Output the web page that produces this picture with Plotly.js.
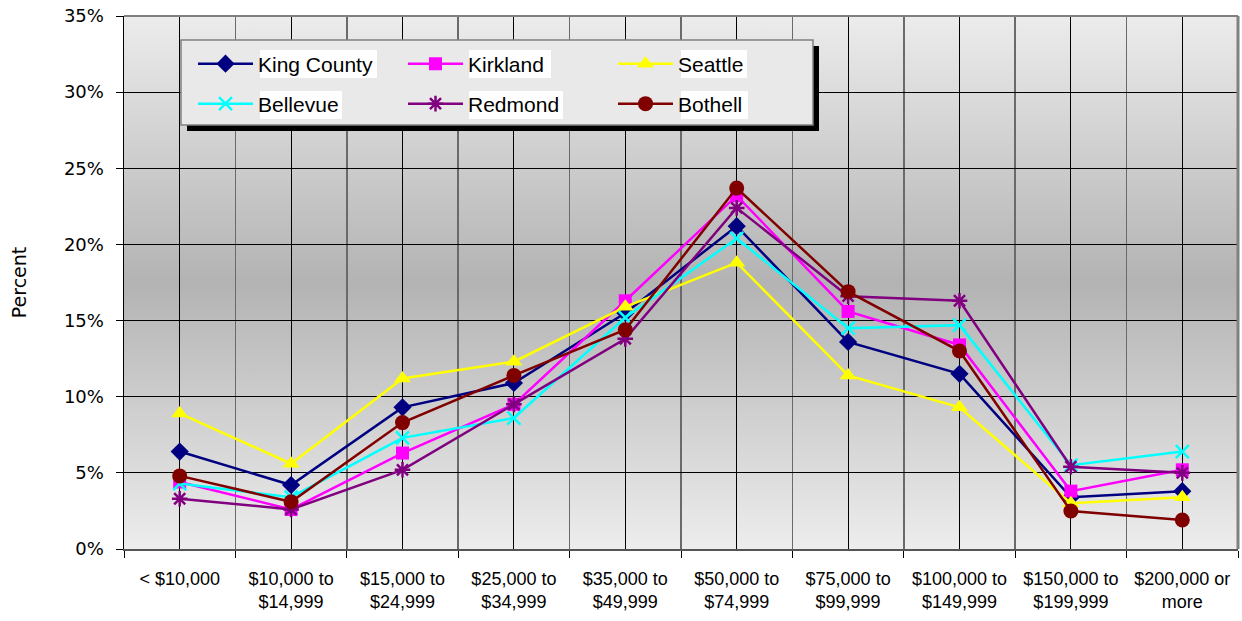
<!DOCTYPE html>
<html>
<head>
<meta charset="utf-8">
<script src="https://cdn.plot.ly/plotly-3.0.1.min.js"></script>
<style>
html,body{margin:0;padding:0;background:#fff;}
#chart{width:1242px;height:621px;}
</style>
</head>
<body>
<div id="chart"></div>
<script>
// ---- data ----
const categories = ["< $10,000", "$10,000 to<br>$14,999", "$15,000 to<br>$24,999", "$25,000 to<br>$34,999",
  "$35,000 to<br>$49,999", "$50,000 to<br>$74,999", "$75,000 to<br>$99,999", "$100,000 to<br>$149,999",
  "$150,000 to<br>$199,999", "$200,000 or<br>more"];
const kingCounty = [6.4, 4.2, 9.3, 10.9, 15.5, 21.2, 13.6, 11.5, 3.4, 3.8];
const kirkland   = [4.4, 2.6, 6.3, 9.5, 16.3, 23.2, 15.6, 13.4, 3.8, 5.2];
const seattle    = [8.9, 5.6, 11.2, 12.3, 15.9, 18.8, 11.4, 9.3, 3.0, 3.4];
const bellevue   = [4.3, 3.4, 7.3, 8.6, 15.2, 20.4, 14.5, 14.7, 5.5, 6.4];
const redmond    = [3.3, 2.6, 5.2, 9.5, 13.8, 22.4, 16.6, 16.3, 5.4, 5.0];
const bothell    = [4.8, 3.1, 8.3, 11.4, 14.4, 23.7, 16.9, 13.0, 2.5, 1.9];
const yTickVals  = [0, 5, 10, 15, 20, 25, 30, 35];
const yTickText  = ["0%", "5%", "10%", "15%", "20%", "25%", "30%", "35%"];

// ---- layout helpers ----
const W = 1242, H = 621;
const M = {l: 124, r: 4, t: 16, b: 72};
const PW = W - M.l - M.r, PH = H - M.t - M.b;
const px = x => (x - M.l) / PW;
const py = y => (H - M.b - y) / PH;

const xIdx = categories.map((_, i) => i);
const bounds = categories.map((_, i) => i - 0.5).concat([categories.length - 0.5]);

function tr(name, y, color, symbol, size, legend, lw) {
  return {
    type: 'scatter', mode: 'lines+markers', name: name, x: xIdx, y: y,
    legend: legend,
    line: {color: color, width: 2.5},
    marker: {symbol: symbol, size: size, color: color, line: {color: color, width: lw || 0}},
    cliponaxis: false
  };
}

const traces = [
  tr('King County', kingCounty, '#000080', 'diamond', 14, 'legend'),
  tr('Kirkland', kirkland, '#ff00ff', 'square', 13, 'legend'),
  tr('Seattle', seattle, '#ffff00', 'triangle-up', 15, 'legend'),
  tr('Bellevue', bellevue, '#00ffff', 'x-thin-open', 13, 'legend2', 2.5),
  tr('Redmond', redmond, '#800080', 'asterisk-open', 13, 'legend2', 2.5),
  tr('Bothell', bothell, '#800000', 'circle', 15, 'legend2')
];

const grad = '<svg xmlns="http://www.w3.org/2000/svg" width="100" height="100" preserveAspectRatio="none">' +
  '<defs><linearGradient id="g" x1="0" y1="0" x2="0" y2="1">' +
  '<stop offset="0" stop-color="#ececec"/><stop offset="0.5" stop-color="#b3b3b3"/>' +
  '<stop offset="1" stop-color="#ededed"/></linearGradient></defs>' +
  '<rect width="100" height="100" fill="url(#g)"/></svg>';

const labelBoxes = [
  [260, 50, 377, 78], [469, 50, 551, 78], [681, 50, 747, 78],
  [260, 91, 342, 119], [469, 91, 563, 119], [681, 91, 748, 119]
];

const shapes = [
  {type: 'rect', xref: 'paper', yref: 'paper', x0: px(187), x1: px(819), y0: py(131), y1: py(46),
   fillcolor: '#000', line: {width: 0}, layer: 'above'},
  {type: 'rect', xref: 'paper', yref: 'paper', x0: px(181), x1: px(813), y0: py(125), y1: py(40),
   fillcolor: '#e9e9e9', line: {color: '#808080', width: 1.5}, layer: 'above'},
  {type: 'line', xref: 'paper', yref: 'paper', x0: 0, x1: 1, y0: 1, y1: 1, line: {color: '#808080', width: 2}, layer: 'above'},
  {type: 'line', xref: 'paper', yref: 'paper', x0: 1, x1: 1, y0: 0, y1: 1, line: {color: '#808080', width: 3}, layer: 'above'}
].concat(labelBoxes.map(b => ({
  type: 'rect', xref: 'paper', yref: 'paper', x0: px(b[0]), x1: px(b[2]), y0: py(b[3]), y1: py(b[1]),
  fillcolor: '#fff', line: {width: 0}, layer: 'above'
})));

const legendFont = {family: '"Liberation Sans", Arial, sans-serif', size: 21, color: '#000'};
const legendCommon = {
  orientation: 'h', x: px(193), xanchor: 'left', yanchor: 'middle',
  bgcolor: 'rgba(0,0,0,0)', borderwidth: 0, font: legendFont,
  entrywidth: 140, entrywidthmode: 'pixels', itemwidth: 55, tracegroupgap: 0
};

const layout = {
  width: W, height: H,
  margin: M,
  paper_bgcolor: '#fff',
  plot_bgcolor: 'rgba(0,0,0,0)',
  showlegend: true,
  images: [{source: 'data:image/svg+xml;charset=utf-8,' + encodeURIComponent(grad),
    xref: 'paper', yref: 'paper', x: 0, y: 1, sizex: 1, sizey: 1,
    sizing: 'stretch', layer: 'below', xanchor: 'left', yanchor: 'top'}],
  xaxis: {
    range: [-0.5, categories.length - 0.5],
    tickmode: 'array', tickvals: xIdx, ticktext: categories,
    ticks: '', showgrid: true, gridcolor: '#000', gridwidth: 1,
    showline: true, linecolor: '#555', linewidth: 2,
    zeroline: false, ticklabelstandoff: 12,
    tickfont: {family: '"Liberation Sans", Arial, sans-serif', size: 18, color: '#000'},
    minor: {tickmode: 'array', tickvals: bounds, ticks: 'outside', ticklen: 7, tickcolor: '#000', tickwidth: 1,
      showgrid: true, gridcolor: '#6a6a6a', gridwidth: 1.5},
    fixedrange: true
  },
  yaxis: {
    range: [0, 35], tickmode: 'array', tickvals: yTickVals, ticktext: yTickText,
    ticks: 'outside', ticklen: 7, tickcolor: '#000', ticklabelstandoff: 8,
    showgrid: true, gridcolor: '#000', gridwidth: 1,
    showline: true, linecolor: '#000', linewidth: 1.5, zeroline: false,
    tickfont: {family: '"DejaVu Sans", sans-serif', size: 18, color: '#000'},
    title: {text: 'Percent', font: {family: '"DejaVu Sans", sans-serif', size: 19, color: '#000'}, standoff: 32},
    fixedrange: true
  },
  legend: Object.assign({}, legendCommon, {y: py(64)}),
  legend2: Object.assign({}, legendCommon, {y: py(104)}),
  shapes: shapes
};

Plotly.newPlot('chart', traces, layout, {displayModeBar: false, staticPlot: true});
</script>
</body>
</html>
